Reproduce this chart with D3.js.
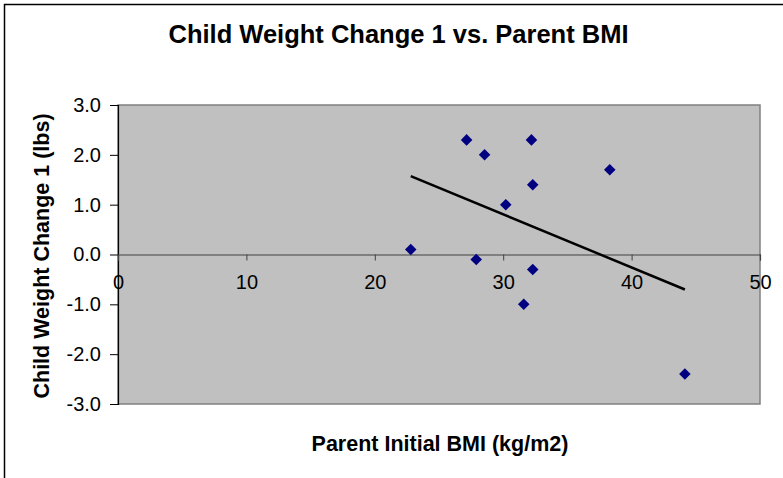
<!DOCTYPE html>
<html>
<head>
<meta charset="utf-8">
<script src="https://cdn.jsdelivr.net/npm/d3@7/dist/d3.min.js"></script>
<style>
  html, body { margin: 0; padding: 0; background: #fff; }
  svg { display: block; }
  text { font-family: "Liberation Sans", Arial, sans-serif; fill: #000; }
</style>
</head>
<body>
<svg id="chart" width="783" height="478"></svg>
<script>
// Data
const parentBMI   = [22.8, 27.15, 28.55, 32.2, 38.3, 32.3, 30.2, 27.9, 32.3, 31.6, 44.15];
const childChange = [0.1, 2.3, 2.0, 2.3, 1.7, 1.4, 1.0, -0.1, -0.3, -1.0, -2.4];
const xTicks = [0, 10, 20, 30, 40, 50];
const yTicks = [3, 2, 1, 0, -1, -2, -3];
const titleText = "Child Weight Change 1 vs. Parent BMI";
const xLabelText = "Parent Initial BMI (kg/m2)";
const yLabelText = "Child Weight Change 1 (lbs)";

const W = 783, H = 478;
const plot = { left: 118, right: 760, top: 105, bottom: 404 };

const svg = d3.select("#chart");

// outer chart border (extends past right/bottom edges like the reference)
svg.append("rect")
  .attr("x", 4.5).attr("y", 4.5)
  .attr("width", W + 20).attr("height", H + 20)
  .attr("fill", "#fff").attr("stroke", "#000").attr("stroke-width", 1.5);

const x = d3.scaleLinear().domain([0, 50]).range([plot.left, plot.right]);
const y = d3.scaleLinear().domain([-3, 3]).range([plot.bottom, plot.top]);

// plot area
svg.append("rect")
  .attr("x", plot.left).attr("y", plot.top)
  .attr("width", plot.right - plot.left).attr("height", plot.bottom - plot.top)
  .attr("fill", "#c0c0c0").attr("stroke", "#808080").attr("stroke-width", 1.5);

// y axis
const yAxis = d3.axisLeft(y).tickValues(yTicks).tickSize(8).tickPadding(9)
  .tickFormat(d => d.toFixed(1));
const gy = svg.append("g").attr("transform", `translate(${plot.left},0)`).call(yAxis);
gy.select(".domain").attr("stroke", "#000").attr("stroke-width", 1.2);
gy.selectAll(".tick line").attr("stroke", "#000").attr("stroke-width", 1);
gy.selectAll(".tick text")
  .attr("font-size", 20).attr("font-family", "Liberation Sans, Arial, sans-serif")
  .attr("fill", "#000");

// x axis at y = 0
const xAxis = d3.axisBottom(x).tickValues(xTicks).tickSize(6).tickPadding(14)
  .tickFormat(d => String(d));
const gx = svg.append("g").attr("transform", `translate(0,${y(0)})`).call(xAxis);
gx.select(".domain").attr("stroke", "#404040").attr("stroke-width", 1.2);
gx.selectAll(".tick line").attr("stroke", "#404040").attr("stroke-width", 1);
gx.selectAll(".tick text")
  .attr("font-size", 20).attr("font-family", "Liberation Sans, Arial, sans-serif")
  .attr("fill", "#000");

// linear trend line (least squares)
const n = parentBMI.length;
const mx = d3.mean(parentBMI), my = d3.mean(childChange);
let sxy = 0, sxx = 0;
for (let i = 0; i < n; i++) {
  sxy += (parentBMI[i] - mx) * (childChange[i] - my);
  sxx += (parentBMI[i] - mx) ** 2;
}
const slope = sxy / sxx, intercept = my - slope * mx;
const [xmin, xmax] = d3.extent(parentBMI);
svg.append("line")
  .attr("x1", x(xmin)).attr("y1", y(intercept + slope * xmin))
  .attr("x2", x(xmax)).attr("y2", y(intercept + slope * xmax))
  .attr("stroke", "#000").attr("stroke-width", 2.5);

// points (diamonds)
const diamond = d3.symbol().type(d3.symbolDiamond2).size(85);
svg.append("g").selectAll("path")
  .data(parentBMI.map((v, i) => [v, childChange[i]]))
  .join("path")
  .attr("d", diamond)
  .attr("transform", d => `translate(${x(d[0])},${y(d[1])})`)
  .attr("fill", "#000080");

// titles
svg.append("text")
  .attr("x", 398.5).attr("y", 43)
  .attr("text-anchor", "middle")
  .attr("font-size", 25.5).attr("font-weight", "bold")
  .text(titleText);

svg.append("text")
  .attr("x", 440).attr("y", 450.5)
  .attr("text-anchor", "middle")
  .attr("font-size", 21.5).attr("font-weight", "bold")
  .text(xLabelText);

svg.append("text")
  .attr("transform", "translate(49,256) rotate(-90)")
  .attr("text-anchor", "middle")
  .attr("font-size", 21.5).attr("font-weight", "bold")
  .text(yLabelText);
</script>
</body>
</html>
